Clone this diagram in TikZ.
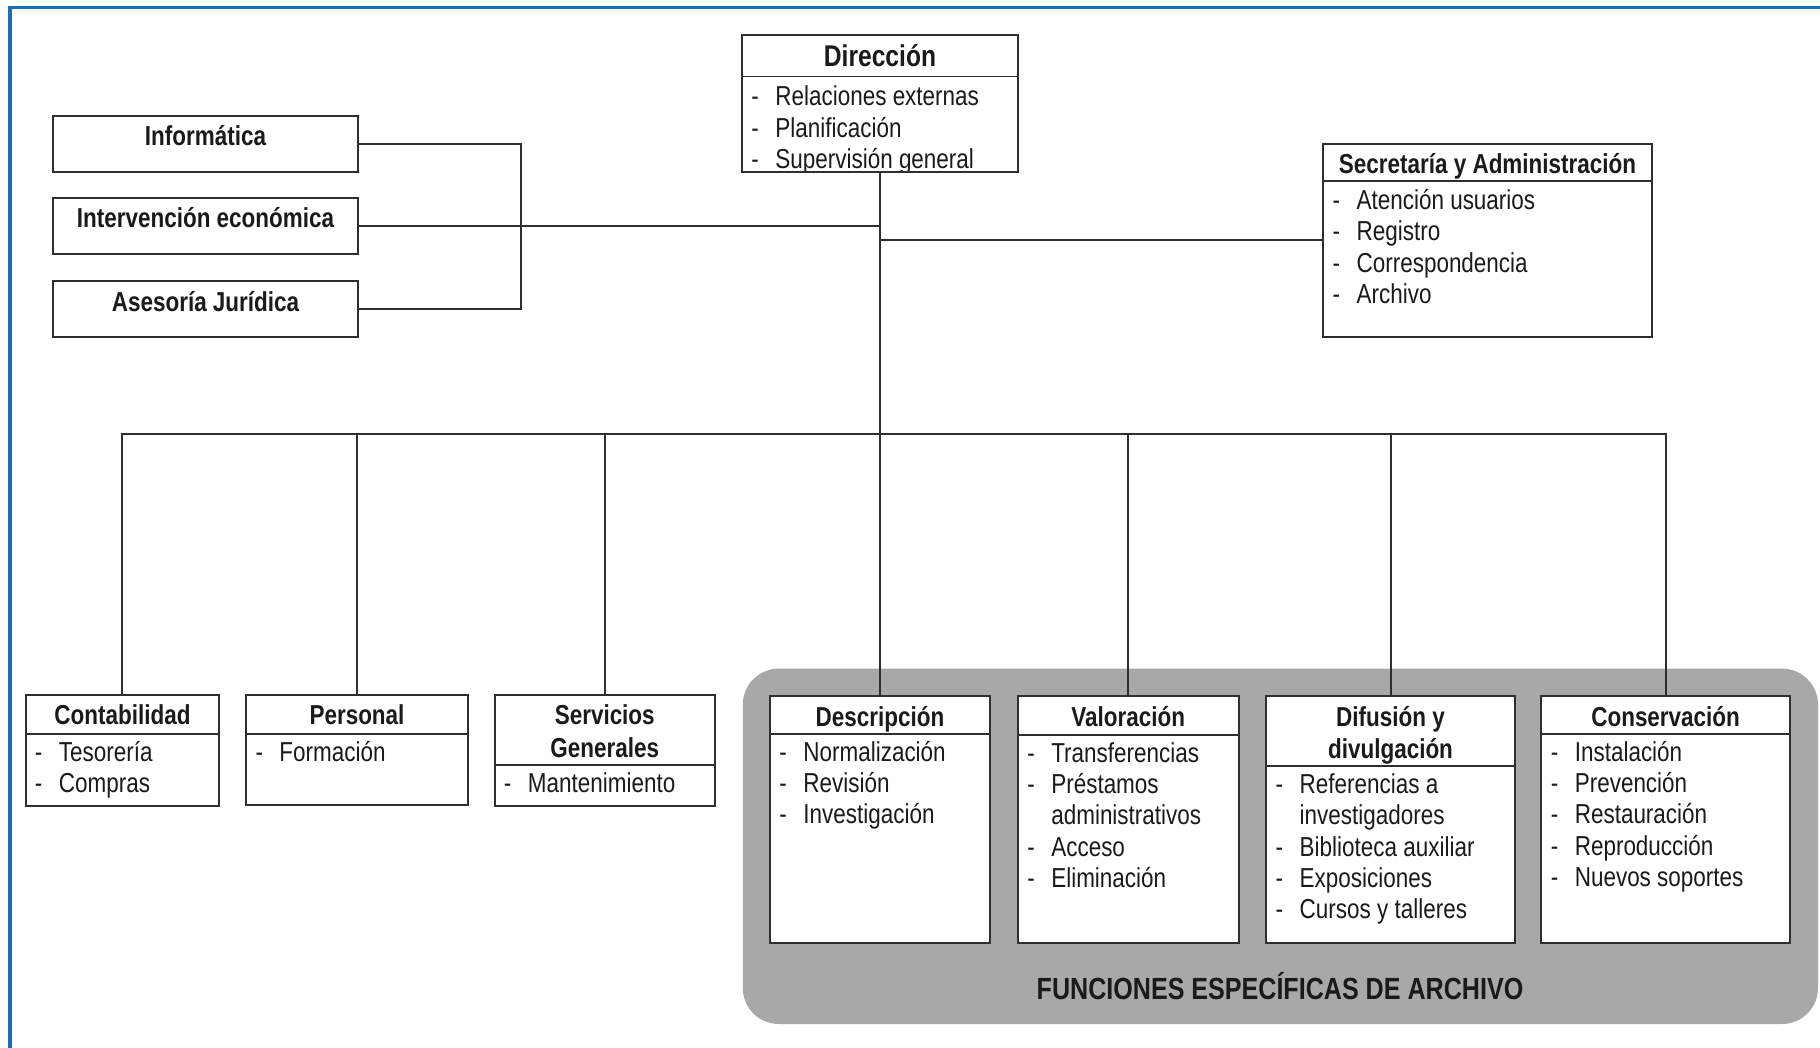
\documentclass[tikz,border=0pt]{standalone}
\usepackage{fontspec}
\setmainfont{Liberation Sans}[FakeStretch=0.82]
\usetikzlibrary{fit}
\definecolor{framblue}{HTML}{1E6EB4}
\definecolor{ink}{HTML}{1A1A1A}
\definecolor{linec}{HTML}{2E2E2E}
\definecolor{panelgray}{HTML}{A8A8A8}
\newcommand\itm[1]{\makebox[12pt][l]{-}#1}
\newcommand\cnt[1]{\hspace*{12pt}#1}
\newcommand\itemlist[5][31.3]{%
  \foreach \itx [count=\i] in {#5}{%
    \node[itemtxt] (#2-\i) at ({#3+9},{#4+#1*(\i-1)}) {\itx};
  }}
\tikzset{
  orgbox/.style={draw=linec, line width=1pt, fill=white, inner sep=0pt},
  sepline/.style={draw=linec, line width=0.9pt},
  conn/.style={draw=linec, line width=1pt},
  ttl/.style={anchor=base, inner sep=0pt, text=ink, font=\fontsize{13.7pt}{15.7pt}\selectfont\bfseries},
  itemtxt/.style={anchor=base west, inner sep=0pt, text=ink, font=\fontsize{13.7pt}{15.7pt}\selectfont},
}
\begin{document}
\begin{tikzpicture}[x=0.5pt, y=-0.5pt]
\useasboundingbox (0,0) rectangle (1820,1048);
\fill[white] (0,0) rectangle (1820,1048);
% frame
\draw[framblue, line width=1.3pt] (9,7.5) -- (1820,7.5);
\draw[framblue, line width=1.6pt] (10,6.5) -- (10,1048);
% panel
\fill[panelgray, rounded corners=18pt] (742.8,668.6) rectangle (1818,1024);
\node[ttl, font=\fontsize{15.3pt}{17pt}\selectfont\bfseries] (panel-t) at (1280,999) {FUNCIONES ESPECÍFICAS DE ARCHIVO};

% left staff boxes
\node[orgbox, fit={(53.4,116) (357.5,171.8)}] (inf) {};
\node[ttl] (inf-t) at (205.5,145.6) {Informática};
\node[orgbox, fit={(53.4,198.5) (357.5,254.2)}] (int) {};
\node[ttl] (int-t) at (205.5,228) {Intervención económica};
\node[orgbox, fit={(53.4,280.9) (357.5,336.6)}] (ase) {};
\node[ttl] (ase-t) at (205.5,311.6) {Asesoría Jurídica};

% Direccion
\node[orgbox, fit={(742,34.8) (1018,171.8)}] (dir) {};
\draw[sepline] (742,76.6) -- (1018,76.6);
\node[ttl, font=\fontsize{15pt}{17pt}\selectfont\bfseries] (dir-t) at (880,67) {Dirección};
\begin{scope}
  \clip (743,34.8) rectangle (1017,170.6);
  \itemlist[31.6]{dir}{742}{105.5}{\itm{Relaciones externas},\itm{Planificación},\itm{Supervisión general}}
\end{scope}

% Secretaria
\node[orgbox, fit={(1323.2,143.9) (1651.7,336.6)}] (sec) {};
\draw[sepline] (1323.2,181.1) -- (1651.7,181.1);
\node[ttl] (sec-t) at (1487.5,173.3) {Secretaría y Administración};
\itemlist{sec}{1323.2}{209.4}{\itm{Atención usuarios},\itm{Registro},\itm{Correspondencia},\itm{Archivo}}

% bottom row
\node[orgbox, fit={(25.5,695.3) (219.4,805.5)}] (cont) {};
\draw[sepline] (25.5,733.6) -- (219.4,733.6);
\node[ttl] (cont-t) at (122.5,724.8) {Contabilidad};
\itemlist{cont}{25.5}{761.1}{\itm{Tesorería},\itm{Compras}}

\node[orgbox, fit={(246.1,695.3) (467.8,805)}] (pers) {};
\draw[sepline] (246.1,733.6) -- (467.8,733.6);
\node[ttl] (pers-t) at (357,724.8) {Personal};
\itemlist{pers}{246.1}{761.1}{\itm{Formación}}

\node[orgbox, fit={(494.5,695.3) (715,805.5)}] (serv) {};
\draw[sepline] (494.5,764.9) -- (715,764.9);
\node[ttl] (serv-t1) at (604.75,724.8) {Servicios};
\node[ttl] (serv-t2) at (604.75,757.3) {Generales};
\itemlist{serv}{494.5}{792.5}{\itm{Mantenimiento}}

\node[orgbox, fit={(770,696.4) (990,942.5)}] (desc) {};
\draw[sepline] (770,733.6) -- (990,733.6);
\node[ttl] (desc-t) at (880,726) {Descripción};
\itemlist{desc}{770}{761.1}{\itm{Normalización},\itm{Revisión},\itm{Investigación}}

\node[orgbox, fit={(1017.9,696.4) (1238.5,942.5)}] (val) {};
\draw[sepline] (1017.9,734.7) -- (1238.5,734.7);
\node[ttl] (val-t) at (1128.2,726) {Valoración};
\itemlist{val}{1017.9}{762.3}{\itm{Transferencias},\itm{Préstamos},\cnt{administrativos},\itm{Acceso},\itm{Eliminación}}

\node[orgbox, fit={(1266.3,696.4) (1514.7,942.5)}] (dif) {};
\draw[sepline] (1266.3,766) -- (1514.7,766);
\node[ttl] (dif-t1) at (1390.5,726) {Difusión y};
\node[ttl] (dif-t2) at (1390.5,758.5) {divulgación};
\itemlist{dif}{1266.3}{793.6}{\itm{Referencias a},\cnt{investigadores},\itm{Biblioteca auxiliar},\itm{Exposiciones},\itm{Cursos y talleres}}

\node[orgbox, fit={(1541.4,696.4) (1789.8,942.5)}] (cons) {};
\draw[sepline] (1541.4,733.6) -- (1789.8,733.6);
\node[ttl] (cons-t) at (1665.6,726) {Conservación};
\itemlist{cons}{1541.4}{761.1}{\itm{Instalación},\itm{Prevención},\itm{Restauración},\itm{Reproducción},\itm{Nuevos soportes}}

% connectors
\coordinate (jl) at (521.2,226.3);
\draw[conn] (inf.east) -| (jl) |- (ase.east);
\draw[conn] (int.east) -- (int.east -| dir.south);
\draw[conn] (sec.west) -- (sec.west -| dir.south);
\draw[conn] (dir.south) -- (desc.north);
\coordinate (bus) at (880,434.1);
\draw[conn] (cont.north) |- (bus) -| (cons.north);
\foreach \b in {pers,serv,val,dif} \draw[conn] (\b.north) -- (\b.north |- bus);
\end{tikzpicture}
\end{document}
